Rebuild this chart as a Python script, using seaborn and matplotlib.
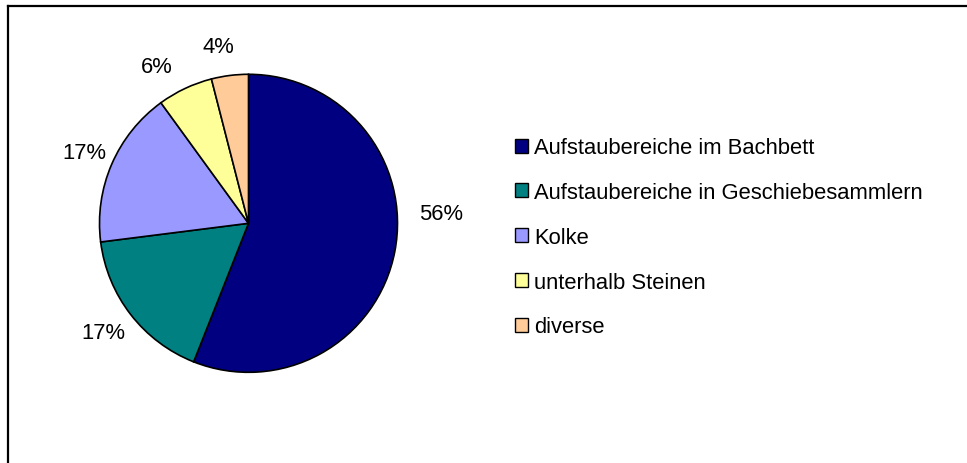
import numpy as np
import matplotlib
matplotlib.use("Agg")
import matplotlib.pyplot as plt
from matplotlib.lines import Line2D
import seaborn as sns

# Shares of the habitat types (percent)
categories = [
    "Aufstaubereiche im Bachbett",
    "Aufstaubereiche in Geschiebesammlern",
    "Kolke",
    "unterhalb Steinen",
    "diverse",
]
shares = [56, 17, 17, 6, 4]
pct_labels = ["56%", "17%", "17%", "6%", "4%"]
slice_colors = ["#000080", "#008080", "#9999FF", "#FFFF99", "#FFCC99"]

sns.set_style("white")
plt.rcParams["font.family"] = ["Liberation Sans", "DejaVu Sans"]
plt.rcParams["text.color"] = "black"

W, H = 967, 464
FS = 15.8
fig = plt.figure(figsize=(W / 100, H / 100), dpi=100)
fig.patch.set_facecolor("white")

# square axes holding the pie (radius 1 fills the box)
cx, cy, r = 248.5, 224.3, 149.0
ax = fig.add_axes([(cx - r) / W, (H - cy - r) / H, 2 * r / W, 2 * r / H])
palette = sns.color_palette(slice_colors)
wedges, _ = ax.pie(
    shares,
    colors=palette,
    startangle=90,
    counterclock=False,
    radius=1.0,
    wedgeprops=dict(edgecolor="black", linewidth=1.2),
)
ax.set_xlim(-1, 1)
ax.set_ylim(-1, 1)
ax.axis("off")

# percentage labels placed outside each slice
label_radius = [1.293, 1.219, 1.203, 1.221, 1.204]
label_turn = [13.6, -1.0, 0.0, 5.0, 2.6]
for w, txt, rad, turn in zip(wedges, pct_labels, label_radius, label_turn):
    ang = np.deg2rad((w.theta1 + w.theta2) / 2 + turn)
    ax.text(rad * np.cos(ang), rad * np.sin(ang), txt, ha="center", va="center",
            fontsize=FS, color="black", clip_on=False)

# legend with square patches
handles = [
    plt.Rectangle((0, 0), 1, 1, facecolor=c, edgecolor="black", linewidth=1.0)
    for c in palette
]
leg = fig.legend(
    handles, categories,
    loc="upper left",
    bbox_to_anchor=(515 / W, 1 - 138.5 / H),
    frameon=False,
    fontsize=FS,
    handlelength=0.6,
    handleheight=0.6,
    handletextpad=0.28,
    labelspacing=1.08,
    borderpad=0,
    borderaxespad=0,
)
for t in leg.get_texts():
    t.set_color("black")

# outer frame (left and top edges)
fig.add_artist(Line2D([8 / W, 8 / W], [0, 1 - 6.5 / H], transform=fig.transFigure,
                      color="black", linewidth=1.6, solid_capstyle="projecting"))
fig.add_artist(Line2D([8 / W, 1], [1 - 6.5 / H, 1 - 6.5 / H], transform=fig.transFigure,
                      color="black", linewidth=1.6, solid_capstyle="projecting"))

fig.savefig("out.png", dpi=100, facecolor="white")
